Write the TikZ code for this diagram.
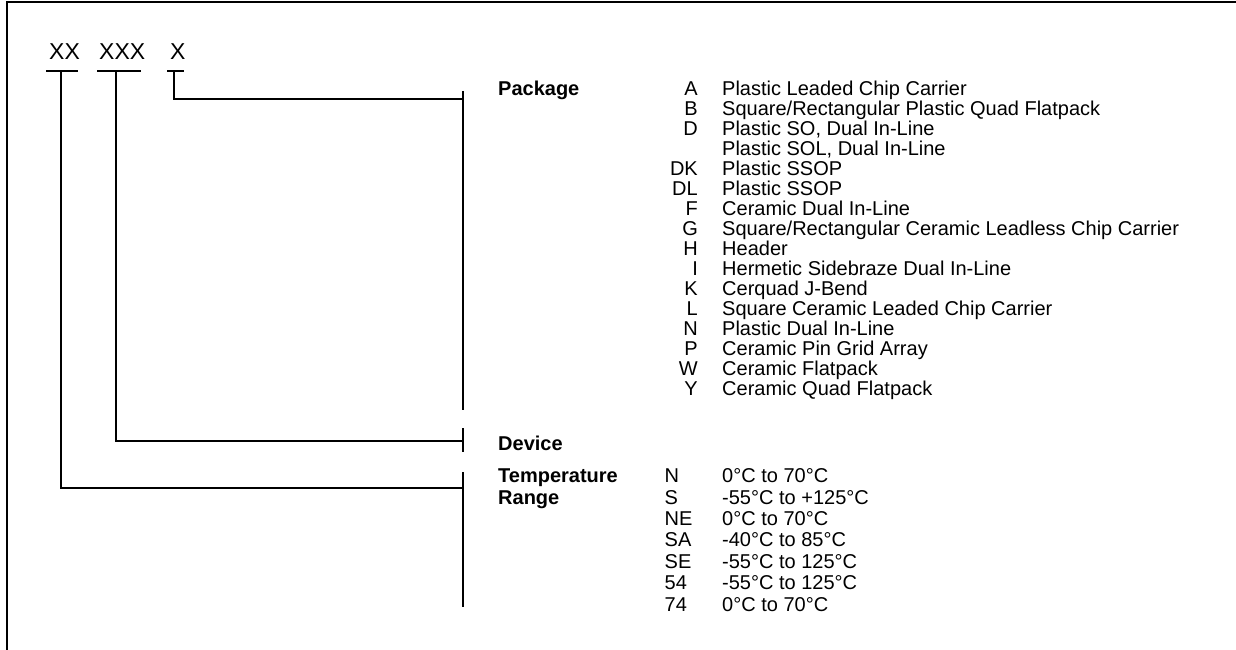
\documentclass[tikz,border=0pt]{standalone}
\usepackage{fontspec}
\setmainfont{Liberation Sans}

\begin{document}
\begin{tikzpicture}[x=1pt, y=-1pt,
    lbl/.style={inner sep=0pt, font=\fontsize{20}{24}\selectfont},
    head/.style={inner sep=0pt, font=\fontsize{20}{24}\selectfont\bfseries},
    part/.style={inner sep=0pt, font=\fontsize{23}{28}\selectfont},
    rule/.style={line width=2pt}]

    \useasboundingbox (0,0) rectangle (1236,650);

    % FRAME
    \draw[line width=2.4pt] (7,650) -- (7,2.2) -- (1236,2.2);

    % PART NUMBER
    \node[part, anchor=base west] (xx) at (49,59.3) {XX};
    \node[part, anchor=base west] (xxx) at (99,59.3) {XXX};
    \node[part, anchor=base west] (x) at (170,59.3) {X};

    \draw[rule] (46,70.7) -- (78,70.7);
    \draw[rule] (97,70.7) -- (141,70.7);
    \draw[rule] (167,70.7) -- (184,70.7);

    \coordinate (xxbar) at (60.7,70.7);
    \coordinate (xxxbar) at (116.3,70.7);
    \coordinate (xbar) at (173.7,70.7);

    % BRACKETS
    \coordinate (pkgtop) at (463,91);
    \coordinate (pkgmid) at (463,99);
    \coordinate (pkgbot) at (463,410);
    \coordinate (devtop) at (463,428);
    \coordinate (devmid) at (463,440.7);
    \coordinate (devbot) at (463,452);
    \coordinate (temptop) at (463,472);
    \coordinate (tempmid) at (463,488);
    \coordinate (tempbot) at (463,607);

    \draw[rule] (pkgtop) -- (pkgbot);
    \draw[rule] (devtop) -- (devbot);
    \draw[rule] (temptop) -- (tempbot);

    % CONNECTORS
    \draw[rule] (xbar) |- (pkgmid);
    \draw[rule] (xxxbar) |- (devmid);
    \draw[rule] (xxbar) |- (tempmid);

    % HEADINGS
    \node[head, anchor=base west] (package) at (498,95.7) {Package};
    \node[head, anchor=base west] (device) at (498,450) {Device};
    \node[head, anchor=base west] (tempword) at (498,482.7) {Temperature};
    \node[head, anchor=base west] (rangeword) at (498,504) {Range};

    % PACKAGE CODES
    \foreach \code/\desc [count=\i from 0] in {A/Plastic Leaded Chip Carrier,
        B/{Square/Rectangular Plastic Quad Flatpack}, D/{Plastic SO, Dual In-Line},
        {}/{Plastic SOL, Dual In-Line}, DK/Plastic SSOP, DL/Plastic SSOP,
        F/Ceramic Dual In-Line, G/{Square/Rectangular Ceramic Leadless Chip Carrier},
        H/Header, I/Hermetic Sidebraze Dual In-Line, K/Cerquad J-Bend,
        L/Square Ceramic Leaded Chip Carrier, N/Plastic Dual In-Line,
        P/Ceramic Pin Grid Array, W/Ceramic Flatpack, Y/Ceramic Quad Flatpack}
    {
        \node[lbl, anchor=base east] (pcode\i) at (698,95.7+20*\i) {\code};
        \node[lbl, anchor=base west] (pdesc\i) at (722,95.7+20*\i) {\desc};
    }

    % TEMPERATURE CODES
    \foreach \code/\desc [count=\i from 0] in {N/0°C to 70°C, S/-55°C to +125°C,
        NE/0°C to 70°C, SA/-40°C to 85°C, SE/-55°C to 125°C,
        54/-55°C to 125°C, 74/0°C to 70°C}
    {
        \node[lbl, anchor=base west] (tcode\i) at (664.5,482.7+21.4*\i) {\code};
        \node[lbl, anchor=base west] (tdesc\i) at (722,482.7+21.4*\i) {\desc};
    }

\end{tikzpicture}
\end{document}
